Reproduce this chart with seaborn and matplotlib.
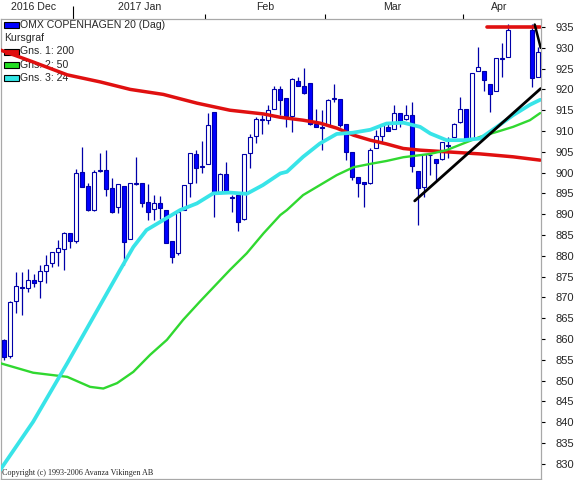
import numpy as np
import pandas as pd
import matplotlib
matplotlib.use('Agg')
import matplotlib.pyplot as plt
import matplotlib.transforms as mtransforms
from matplotlib.patches import Rectangle
import seaborn as sns

# Daily candles, x = trading day slot (Easter holidays leave slots 85-87 empty)
day = list(range(0, 85)) + [88, 89]
opens = [859.8, 856.0, 869.2, 872.5, 872.3, 874.2, 873.9, 876.4, 878.2, 880.8,
         881.6, 885.4, 883.6, 900.1, 896.8, 891.0, 900.3, 900.6, 896.2, 891.7,
         896.8, 884.0, 897.2, 897.4, 893.0, 891.2, 892.6, 891.0, 883.6, 880.6,
         891.0, 897.4, 904.4, 901.3, 902.0, 914.6, 895.4, 899.7, 894.2, 894.6,
         888.8, 904.6, 908.8, 912.6, 912.6, 915.2, 920.0, 917.9, 913.6, 922.1,
         920.8, 921.6, 911.8, 911.0, 911.4, 917.8, 917.6, 911.8, 905.0, 899.0,
         897.7, 897.4, 905.8, 908.8, 911.0, 910.4, 914.4, 912.8, 913.8, 900.4,
         896.6, 904.2, 903.2, 903.2, 906.4, 908.5, 912.1, 915.3, 908.0, 924.5,
         924.5, 921.2, 919.6, 927.4, 927.7, 934.3, 923.1]
highs = [860.0, 869.2, 876.1, 876.1, 876.8, 875.6, 877.8, 880.2, 881.0, 883.8,
         885.8, 885.5, 900.8, 906.2, 897.4, 900.6, 904.6, 905.4, 898.6, 897.2,
         896.8, 897.5, 903.8, 897.4, 897.3, 894.6, 894.4, 891.0, 883.6, 891.0,
         897.0, 904.8, 905.4, 907.6, 914.3, 914.6, 900.0, 902.6, 894.6, 894.6,
         904.5, 909.3, 913.4, 913.8, 916.2, 920.8, 920.8, 918.0, 922.7, 923.1,
         925.1, 921.6, 915.2, 915.0, 917.6, 921.3, 917.6, 911.8, 905.0, 899.0,
         897.7, 905.8, 910.2, 911.8, 911.8, 916.2, 914.4, 916.2, 917.0, 900.4,
         904.5, 904.4, 903.2, 907.4, 908.6, 912.0, 918.1, 915.3, 924.0, 930.3,
         924.5, 921.2, 927.5, 931.1, 935.7, 935.7, 930.3]
lows = [855.0, 855.5, 866.3, 865.8, 871.4, 872.4, 869.9, 873.5, 877.4, 877.6,
        876.6, 881.8, 883.0, 896.5, 890.8, 890.8, 900.2, 894.4, 890.2, 890.2,
        877.8, 884.0, 897.0, 891.8, 888.6, 888.6, 888.8, 883.0, 878.2, 880.2,
        891.0, 894.2, 897.6, 899.8, 902.0, 889.3, 895.0, 895.2, 890.6, 886.0,
        888.7, 901.0, 907.0, 909.4, 911.8, 915.2, 913.8, 911.0, 909.8, 920.8,
        919.0, 911.4, 911.0, 905.4, 911.4, 917.0, 911.0, 903.0, 898.2, 894.2,
        891.8, 897.3, 905.8, 907.4, 910.0, 910.4, 911.0, 912.6, 900.2, 887.3,
        894.2, 899.4, 898.2, 903.0, 903.4, 908.5, 912.0, 908.0, 908.0, 924.4,
        919.7, 914.6, 919.6, 923.1, 927.7, 920.5, 923.1]
closes = [855.7, 869.0, 872.7, 872.2, 874.1, 873.5, 876.3, 877.7, 880.8, 881.8,
          885.4, 883.6, 899.8, 896.6, 891.0, 900.1, 900.6, 896.0, 890.6, 897.2,
          883.4, 897.4, 897.4, 892.8, 890.6, 892.6, 891.4, 883.1, 879.6, 890.5,
          897.0, 904.6, 901.2, 901.6, 911.4, 895.2, 899.7, 895.4, 894.0, 888.2,
          904.4, 908.5, 912.8, 912.8, 915.0, 920.0, 917.5, 913.6, 922.4, 920.8,
          919.1, 911.8, 911.0, 910.8, 917.5, 917.9, 911.4, 905.0, 898.9, 897.6,
          897.3, 905.4, 908.8, 911.7, 910.1, 914.3, 912.5, 913.8, 901.6, 896.2,
          904.5, 904.3, 902.4, 907.4, 906.5, 911.7, 915.3, 908.0, 923.9, 925.3,
          922.3, 918.9, 927.5, 927.6, 934.3, 922.7, 929.1]

# Moving averages
ma200_x = [-0.7, 4.8, 10.5, 16.0, 21.0, 26.5, 32.1, 37.6, 43.2, 46.0, 49.8, 52.6,
           55.4, 58.2, 61.0, 63.7, 66.5, 69.3, 73.7, 79.3, 84.8, 89.3]
ma200_y = [929.5, 926.6, 923.5, 921.8, 920.0, 918.8, 916.7, 915.0, 914.1, 913.3,
           912.6, 911.9, 910.7, 909.0, 907.8, 906.9, 905.8, 905.4, 905.0, 904.5,
           903.8, 903.0]
ma50_x = [-0.7, 4.8, 10.5, 14.3, 16.5, 18.8, 21.5, 24.3, 27.1, 29.8, 32.6, 37.6,
          40.4, 43.2, 46.0, 47.1, 49.8, 52.6, 55.4, 58.2, 61.0, 63.7, 66.5, 69.3,
          71.0, 73.7, 76.5, 79.3, 82.1, 84.8, 87.6, 89.3]
ma50_y = [854.2, 851.9, 850.9, 848.5, 848.1, 849.4, 852.1, 856.2, 859.8, 864.6,
          869.0, 876.6, 880.6, 885.4, 889.8, 891.0, 894.6, 897.0, 899.4, 901.3,
          902.1, 902.8, 903.7, 904.2, 904.5, 905.4, 907.0, 908.6, 909.8, 911.0,
          912.6, 914.3]
ma24_x = [-0.7, 4.8, 10.5, 16.0, 19.3, 21.5, 23.7, 26.5, 29.3, 32.1, 34.8, 37.6,
          40.4, 43.1, 46.0, 47.1, 49.8, 52.6, 55.4, 58.1, 61.0, 63.7, 66.5, 69.3,
          71.0, 73.7, 76.5, 79.3, 82.1, 84.8, 87.6, 89.3]
ma24_y = [828.5, 840.1, 854.2, 868.2, 876.6, 882.1, 886.2, 888.6, 891.0, 892.6,
          895.0, 895.2, 894.9, 897.0, 899.8, 900.2, 903.8, 907.0, 909.3, 909.6,
          910.3, 911.8, 912.0, 911.0, 909.4, 907.8, 907.8, 908.2, 911.0, 913.8,
          916.3, 917.5]

# Hand drawn lines
trend_x = [68.4, 89.4]
trend_y = [893.2, 920.2]
resist_x = [80.4, 89.3]
resist_y = [935.0, 935.0]
drop_x = [88.4, 89.4]
drop_y = [935.6, 930.0]

month_labels = ['2016 Dec', '2017 Jan', 'Feb', 'Mar', 'Apr']
month_label_x = [4.9, 22.6, 43.45, 64.65, 82.5]
month_bounds = [33.45, 53.45, 76.45]
year_bound = [11.45]

legend_rows = [('#0000ff', 'OMX COPENHAGEN 20 (Dag)'), (None, 'Kursgraf'),
               ('#e01010', 'Gns. 1: 200'), ('#22dd22', 'Gns. 2: 50'),
               ('#33e6e6', 'Gns. 3: 24')]

sns.set_style('white')
plt.rcParams['font.family'] = ['Liberation Sans', 'DejaVu Sans']

W, H = 577, 480
fig = plt.figure(figsize=(W / 100, H / 100), dpi=100)
ax = fig.add_axes([1 / W, 1 / H, 539.7 / W, 460.3 / H])

candles = pd.DataFrame({'day': day, 'open': opens, 'high': highs,
                        'low': lows, 'close': closes})
candles['up'] = candles['close'] >= candles['open']
candles['bottom'] = candles[['open', 'close']].min(axis=1)
candles['height'] = (candles['close'] - candles['open']).abs().clip(lower=0.12)

# wicks then bodies
ax.vlines(candles['day'], candles['low'], candles['high'], color='#0000a8',
          linewidth=0.9, zorder=2)
face = np.where(candles['up'], 'white', '#0000ff')
ax.bar(candles['day'], candles['height'], bottom=candles['bottom'], width=0.7,
       color=face, edgecolor='#0000a8', linewidth=0.8, zorder=3)

# moving averages
line_kw = dict(ax=ax, estimator=None, sort=False, zorder=5)
sns.lineplot(x=ma200_x, y=ma200_y, color='#e01010', linewidth=2.5, **line_kw)
sns.lineplot(x=ma50_x, y=ma50_y, color='#30d830', linewidth=1.7, **line_kw)
sns.lineplot(x=ma24_x, y=ma24_y, color='#38e4e8', linewidth=2.7, **line_kw)
for ln in ax.lines:
    ln.set_solid_joinstyle('round')

ax.plot(trend_x, trend_y, color='black', linewidth=2.0, zorder=6,
        solid_capstyle='round')
ax.plot(resist_x, resist_y, color='#e01010', linewidth=2.6, zorder=6)
ax.plot(drop_x, drop_y, color='black', linewidth=1.8, zorder=6)

ax.set_xlim(-0.55, 89.4)
ax.set_ylim(826.35, 937.0)

for s in ax.spines.values():
    s.set_color('#a8a8a8')
    s.set_linewidth(0.9)

# right price axis
ax.yaxis.tick_right()
ax.set_yticks(np.arange(830, 936, 5))
ax.tick_params(axis='y', direction='out', length=3, width=0.8, color='black',
               pad=8, labelsize=8, left=False, right=True)

# month boundaries on top
ax.xaxis.tick_top()
ax.set_xticks(month_bounds)
ax.set_xticks(year_bound, minor=True)
ax.set_xticklabels([])
ax.tick_params(axis='x', which='major', direction='out', length=3.3, width=0.8,
               color='black', top=True, bottom=False, labeltop=False)
ax.tick_params(axis='x', which='minor', direction='out', length=9.5, width=0.8,
               color='black', top=True, bottom=False, labeltop=False)

blend = mtransforms.blended_transform_factory(ax.transData, ax.transAxes)
for lab, xm in zip(month_labels, month_label_x):
    ax.text(xm, 1 + 11.5 / 460.3, lab, transform=blend, ha='center',
            va='center', fontsize=7.6, clip_on=False)

# legend block, drawn under the lines
for i, (col, txt) in enumerate(legend_rows):
    yc = 25.3 + 13.1 * i
    if col is not None:
        ax.add_patch(Rectangle((4 / W, 1 - (yc + 3) / H), 15 / W, 6 / H,
                               transform=fig.transFigure, facecolor=col,
                               edgecolor='black', linewidth=0.8, zorder=1))
        ax.text(20.5 / W, 1 - yc / H, txt, transform=fig.transFigure,
                ha='left', va='center', fontsize=7.6, zorder=1)
    else:
        ax.text(4 / W, 1 - yc / H, txt, transform=fig.transFigure,
                ha='left', va='center', fontsize=7.6, zorder=1)

ax.text(2 / W, 1 - 473 / H, 'Copyright (c) 1993-2006 Avanza Vikingen AB',
        transform=fig.transFigure, ha='left', va='center', fontsize=5.9,
        family='Liberation Serif', zorder=1)

fig.savefig('out.png', dpi=100)
